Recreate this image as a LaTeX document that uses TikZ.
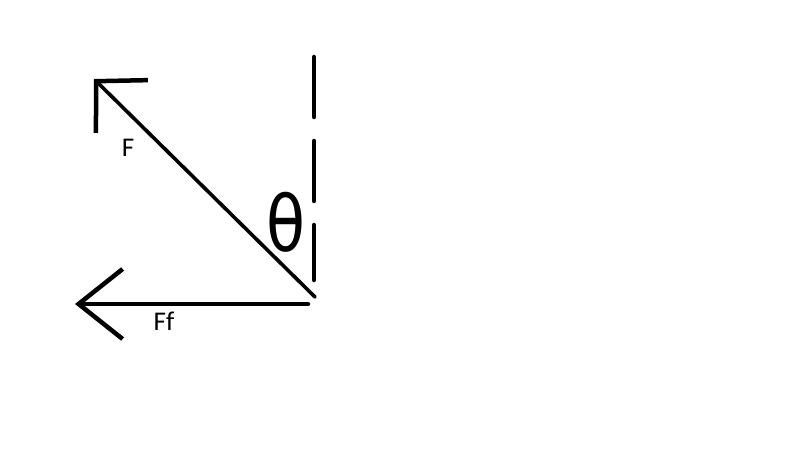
\documentclass[tikz,border=0pt]{standalone}
\usepackage{fontspec}
\setmainfont{Carlito}
\newfontfamily\thetafont{DejaVu Sans}
\usetikzlibrary{arrows.meta}
\tikzset{
  pen/.style={line width=4.5pt, line cap=round},
  lbl/.style={font=\fontsize{27}{32}\selectfont, inner sep=0pt}
}
\begin{document}
\begin{tikzpicture}[x=1pt,y=-1pt]
\useasboundingbox (0,0) rectangle (800,449);
\coordinate (O) at (315,297);
\coordinate (Ftip) at (94,79);
\coordinate (Ffs) at (308,304);
\coordinate (Fftip) at (75,304);
\coordinate (Vt) at (314,57);
\coordinate (Vb) at (314,280);
% applied force
\draw[pen, line width=3.6pt, -{Straight Barb[length=36pt,width=74pt,line width=4.5pt]}] (O)--(Ftip);
% friction
\draw[pen, -{Straight Barb[length=44pt,width=70pt]}] (Ffs)--(Fftip);
% vertical reference
\draw[pen, dash pattern=on 60pt off 24pt] (Vt)--(Vb);
\node[lbl] (F) at (128,148) {F};
\node[lbl] (Ff) at (164,321) {Ff};
\node[inner sep=0pt, xscale=0.85, yscale=1.03, font=\thetafont\fontsize{75}{80}\selectfont] (th) at (286,222) {θ};
\end{tikzpicture}
\end{document}
